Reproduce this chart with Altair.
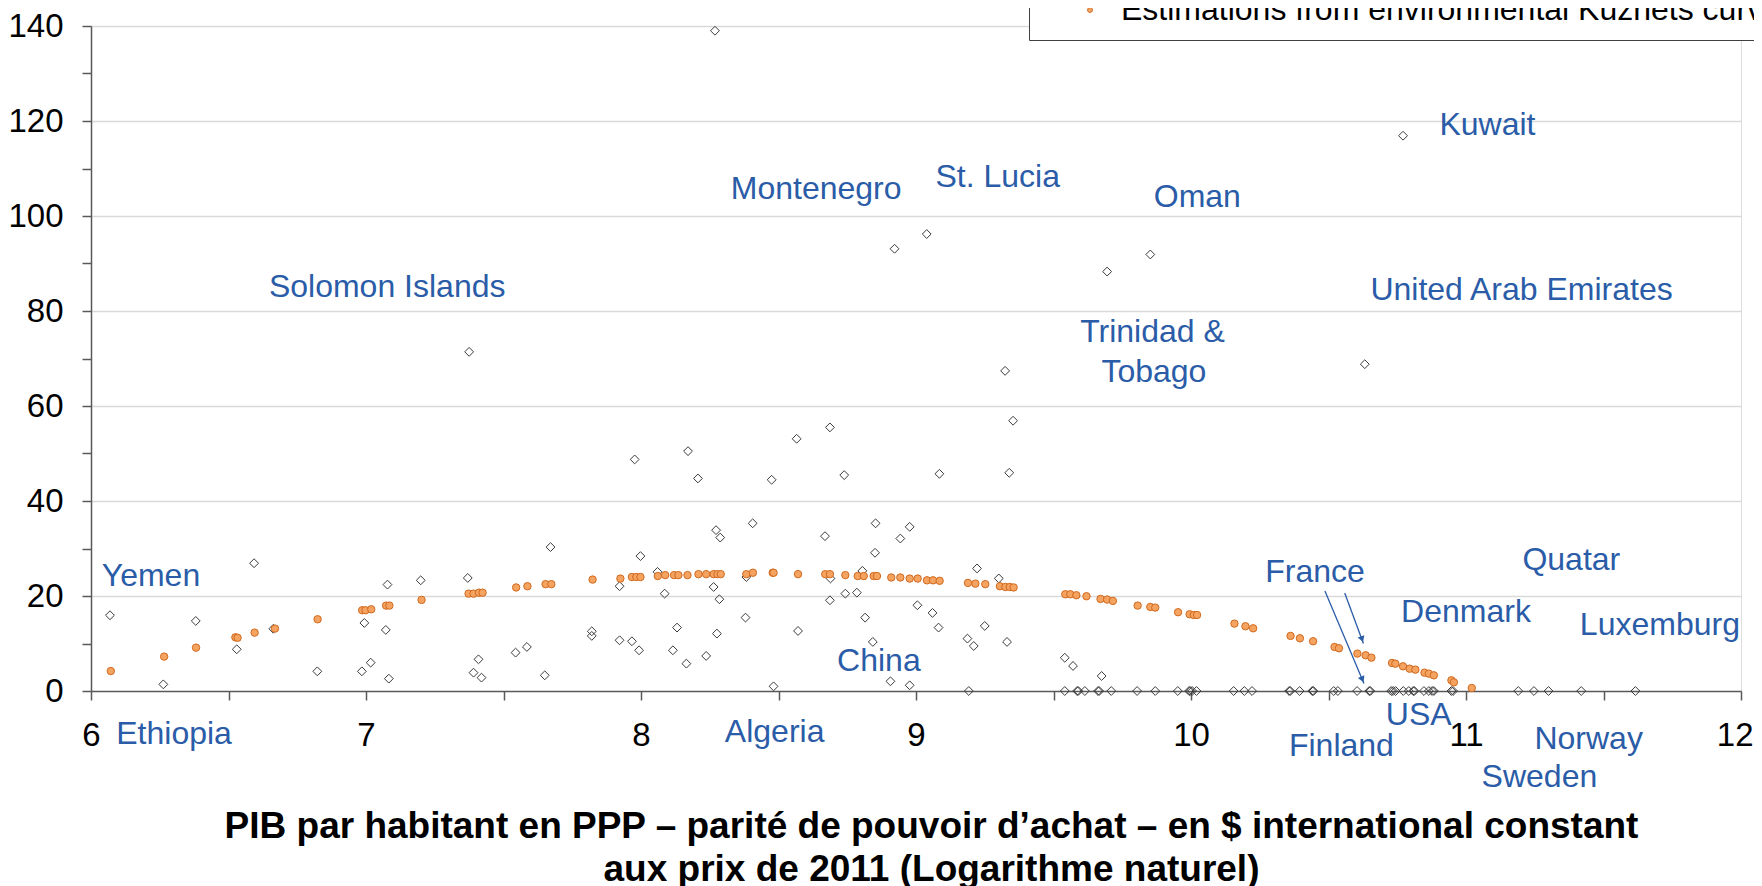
import altair as alt
import pandas as pd

# ---------------- data ----------------
obs_x = [6.069, 6.263, 6.381, 6.530, 6.593, 6.663, 6.823, 6.985, 6.994, 7.017, 7.072, 7.078, 7.083,
         7.199, 7.370, 7.375, 7.391, 7.409, 7.420, 7.544, 7.585, 7.650, 7.671, 7.821, 7.821,
         7.922, 7.922, 7.967, 7.977, 7.993, 7.998, 8.060, 8.086, 8.116, 8.131, 8.165, 8.171, 8.207,
         8.237, 8.264, 8.273, 8.276, 8.285, 8.288, 8.380, 8.383, 8.406, 8.475, 8.482, 8.566, 8.571,
         8.669, 8.687, 8.687, 8.689, 8.739, 8.743, 8.785, 8.805, 8.815, 8.843, 8.851, 8.853, 8.907,
         8.943, 8.977, 8.977, 9.005, 9.060, 9.082, 9.085, 9.187, 9.192, 9.210, 9.222, 9.250, 9.301,
         9.324, 9.331, 9.339, 9.353, 9.541, 9.541, 9.571, 9.586, 9.590, 9.614, 9.662, 9.666, 9.675,
         9.710,
         8.269, 8.922, 9.039, 9.695, 9.852, 10.632, 10.771,
         9.804, 9.870, 9.952, 9.993, 9.997, 10.004, 10.020, 10.155, 10.194, 10.222, 10.357, 10.361,
         10.395, 10.441, 10.445, 10.519, 10.534, 10.604, 10.648, 10.652, 10.728, 10.735, 10.744,
         10.772, 10.792, 10.808, 10.812, 10.847, 10.865, 10.877, 10.883, 10.947, 10.953, 11.190,
         11.247, 11.300, 11.419, 11.616]
obs_y = [15.95, 1.4, 14.75, 8.78, 26.9, 13.1, 4.14, 4.14, 14.33, 5.97, 12.86, 22.4, 2.6,
         23.3, 23.8, 71.4, 3.86, 6.67, 2.81, 8.08, 9.27, 3.3, 30.3, 12.57, 11.6,
         22.06, 10.68, 10.47, 48.75, 8.57, 28.4, 25.08, 20.5, 8.57, 13.35, 5.76, 50.5, 44.75,
         7.38, 21.9, 33.86, 12.08, 19.32, 32.3, 15.45, 24.0, 35.3, 44.47, 0.98, 53.1, 12.64,
         32.6, 55.5, 19.1, 23.7, 45.45, 20.5, 20.7, 25.3, 15.45, 10.33, 29.1, 35.3, 2.04,
         32.1, 34.56, 1.2, 18.05, 16.44, 13.35, 45.73, 11.03, 0.0, 9.48, 25.8, 13.7, 23.7,
         67.4, 10.33, 45.94, 56.9, 7.0, 0.0, 5.27, 0.0, 0.0, 0.0, 0.0, 0.0, 3.16,
         0.0,
         139.0, 93.1, 96.2, 88.3, 91.9, 68.8, 116.9,
         0.0, 0.0, 0.0, 0.0, 0.0, 0.0, 0.0, 0.0, 0.0, 0.0, 0.0, 0.0,
         0.0, 0.0, 0.0, 0.0, 0.0, 0.0, 0.0, 0.0, 0.0, 0.0, 0.0,
         0.0, 0.0, 0.0, 0.0, 0.0, 0.0, 0.0, 0.0, 0.0, 0.0, 0.0,
         0.0, 0.0, 0.0, 0.0]

est_x = [6.072, 6.266, 6.382, 6.525, 6.533, 6.595, 6.669, 6.824, 6.986, 6.998, 7.019, 7.073, 7.085,
         7.202, 7.373, 7.391, 7.411, 7.424, 7.546, 7.587, 7.653, 7.674, 7.824, 7.925, 7.967, 7.983,
         7.998, 8.061, 8.088, 8.120, 8.136, 8.169, 8.209, 8.237, 8.264, 8.278, 8.290, 8.383, 8.407,
         8.479, 8.482, 8.571, 8.670, 8.687, 8.743, 8.788, 8.810, 8.846, 8.858, 8.910, 8.943, 8.977,
         9.006, 9.040, 9.062, 9.086, 9.189, 9.216, 9.252, 9.305, 9.325, 9.341, 9.355, 9.543, 9.561,
         9.583, 9.620, 9.671, 9.695, 9.716, 9.806, 9.852, 9.870, 9.953, 9.995, 10.010, 10.022,
         10.158, 10.198, 10.226, 10.362, 10.396, 10.444, 10.522, 10.538, 10.605, 10.635, 10.656,
         10.731, 10.743, 10.771, 10.795, 10.816, 10.849, 10.865, 10.883, 10.947, 10.956, 11.021]
est_y = [4.2, 7.24, 9.13, 11.3, 11.2, 12.29, 13.14, 15.1, 17.0, 17.0, 17.2, 17.98, 17.98,
         19.18, 20.5, 20.5, 20.7, 20.7, 21.8, 22.06, 22.5, 22.5, 23.46, 23.67, 24.0, 24.0,
         24.0, 24.2, 24.4, 24.4, 24.4, 24.4, 24.6, 24.6, 24.6, 24.6, 24.6, 24.6, 24.9,
         24.9, 24.9, 24.6, 24.6, 24.6, 24.4, 24.2, 24.2, 24.2, 24.2, 23.9, 23.9, 23.67,
         23.67, 23.3, 23.3, 23.2, 22.76, 22.6, 22.5, 22.06, 21.9, 21.9, 21.8, 20.37, 20.37,
         20.16, 19.95, 19.39, 19.25, 18.97, 17.98, 17.7, 17.56, 16.58, 16.16, 16.0, 16.0,
         14.19, 13.63, 13.2, 11.6, 11.1, 10.47, 9.27, 9.0, 7.87, 7.52, 7.02,
         5.9, 5.76, 5.2, 4.7, 4.5, 3.86, 3.65, 3.3, 2.25, 1.83, 0.63]

est_series = "Estimations from environmental Kuznets curve"

label_text = ["Solomon Islands", "Montenegro", "St. Lucia", "Oman", "Kuwait", "United Arab Emirates",
              "Trinidad &", "Tobago", "Yemen", "Ethiopia", "Algeria", "China", "France", "Denmark",
              "Quatar", "Luxemburg", "USA", "Finland", "Norway", "Sweden"]
label_x = [7.077, 8.637, 9.297, 10.023, 11.078, 11.202,
           9.860, 9.865, 6.218, 6.302, 8.486, 8.865, 10.451, 11.000,
           11.383, 11.705, 10.828, 10.547, 11.446, 11.267]
label_y = [83.0, 103.6, 106.1, 102.0, 117.1, 82.3,
           73.55, 65.1, 22.13, -11.1, -10.7, 4.2, 22.97, 14.5,
           25.4, 11.7, -7.2, -13.7, -12.3, -20.2]

arrow_x = [10.487, 10.559]
arrow_y = [21.07, 20.65]
arrow_x2 = [10.629, 10.627]
arrow_y2 = [1.56, 9.99]
head_x = [10.623, 10.622]
head_y = [2.45, 10.9]
head_angle = [337.2, 340.0]

x_ticks = [6, 6.5, 7, 7.5, 8, 8.5, 9, 9.5, 10, 10.5, 11, 11.5, 12]
y_ticks = [0, 10, 20, 30, 40, 50, 60, 70, 80, 90, 100, 110, 120, 130, 140]

title_lines = ["PIB par habitant en PPP \u2013 parit\u00e9 de pouvoir d\u2019achat \u2013 en $ international constant",
               "aux prix de 2011 (Logarithme naturel)"]

# ---------------- tables ----------------
obs_df = pd.DataFrame({"x": obs_x, "y": obs_y})
est_df = pd.DataFrame({"x": est_x, "y": est_y, "series": [est_series] * len(est_x)})
lab_df = pd.DataFrame({"x": label_x, "y": label_y, "label": label_text})
arr_df = pd.DataFrame({"x": arrow_x, "y": arrow_y, "x2": arrow_x2, "y2": arrow_y2})
head_df = pd.DataFrame({"x": head_x, "y": head_y, "ang": head_angle})

FONT = "Liberation Sans"
BLUE = "#2A5CA8"
AXIS_COL = "#595959"

xscale = alt.Scale(domain=[6, 12], nice=False, zero=False)
yscale = alt.Scale(domain=[0, 140], nice=False, zero=False)

x_axis = alt.Axis(
    values=x_ticks, format=".0f",
    labelExpr="datum.value % 1 === 0 ? datum.label : ''",
    grid=False, domainColor=AXIS_COL, domainWidth=1.5,
    tickColor=AXIS_COL, tickWidth=1.5, tickSize=9,
    labelFont=FONT, labelFontSize=33, labelColor="black",
    labelBaseline="alphabetic", labelPadding=45, labelFlush=False, labelOverlap=False,
    labelAlign={"condition": {"test": "datum.value === 12", "value": "right"}, "value": "center"},
    labelOffset={"condition": {"test": "datum.value === 12", "value": 12}, "value": 0},
    title=title_lines, titleFont=FONT, titleFontSize=37, titleFontWeight="bold",
    titleColor="black", titleLineHeight=43, titleX=840, titleY=146,
    titleAlign="center", titleBaseline="alphabetic",
)
y_axis = alt.Axis(
    values=y_ticks, format=".0f",
    labelExpr="datum.value % 20 === 0 ? datum.label : ''",
    grid=True, gridColor="#D9D9D9", gridWidth=1.5,
    gridOpacity={"condition": {"test": "datum.value % 20 === 0 && datum.value > 0", "value": 1}, "value": 0},
    domainColor=AXIS_COL, domainWidth=1.5,
    tickColor=AXIS_COL, tickWidth=1.5, tickSize=9,
    labelFont=FONT, labelFontSize=33, labelColor="black",
    labelPadding=19, labelOverlap=False, labelBaseline="middle",
    title=None,
)


def X(field):
    return alt.X(field, type="quantitative", scale=xscale, axis=x_axis)


def Y(field):
    return alt.Y(field, type="quantitative", scale=yscale, axis=y_axis)


diamonds = alt.Chart(obs_df).mark_point(
    shape="diamond", filled=False, color="#3A3A3A", strokeWidth=1, size=78, opacity=1
).encode(x=X("x"), y=Y("y"))

estimates = alt.Chart(est_df).mark_point(
    shape="circle", filled=True, stroke="#D2691E", strokeWidth=1, size=55, opacity=1
).encode(
    x=X("x"), y=Y("y"),
    fill=alt.Fill("series:N", scale=alt.Scale(domain=[est_series], range=["#F4A460"]),
                  legend=alt.Legend(
                      title=None, orient="none", legendX=938, legendY=-46, padding=14,
                      strokeColor="#404040", fillColor="white",
                      labelFont=FONT, labelFontSize=32, labelColor="black", labelLimit=0,
                      symbolType="circle", symbolSize=24, symbolStrokeColor="#D2691E",
                      symbolStrokeWidth=1, symbolOffset=31, labelOffset=15)),
)

arrows = alt.Chart(arr_df).mark_rule(color=BLUE, strokeWidth=1.3).encode(
    x=X("x"), y=Y("y"), x2="x2", y2="y2"
)

heads = alt.Chart(head_df).mark_point(
    shape="triangle-down", filled=True, color=BLUE, size=50, opacity=1
).encode(x=X("x"), y=Y("y"), angle=alt.Angle("ang:Q", scale=None))

labels = alt.Chart(lab_df).mark_text(
    align="center", baseline="alphabetic", fontSize=32, font=FONT, color=BLUE
).encode(x=X("x"), y=Y("y"), text="label:N")

chart = alt.layer(diamonds, estimates, arrows, heads, labels).properties(
    width=1650, height=665,
    autosize=alt.AutoSizeParams(type="none"),
    padding={"left": 83, "top": 18, "right": 13, "bottom": 199},
).configure_view(stroke=None).configure(font=FONT)

chart.save("out.html", embed_options={"renderer": "svg", "actions": False})
